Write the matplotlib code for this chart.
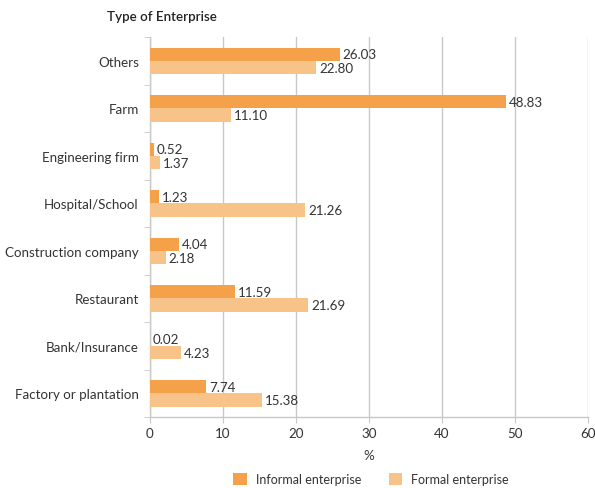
import matplotlib
matplotlib.use("Agg")
import matplotlib.pyplot as plt
import numpy as np

categories = ["Others", "Farm", "Engineering firm", "Hospital/School",
              "Construction company", "Restaurant", "Bank/Insurance",
              "Factory or plantation"]
informal = [26.03, 48.83, 0.52, 1.23, 4.04, 11.59, 0.02, 7.74]
formal = [22.80, 11.10, 1.37, 21.26, 2.18, 21.69, 4.23, 15.38]
xticks = [0, 10, 20, 30, 40, 50, 60]

plt.rcParams['font.family'] = ['Lato', 'DejaVu Sans']

c_inf = "#F4A14A"
c_for = "#F8C389"
txt = "#333333"
grid = "#C8C8C8"
fs = 9.6

fig = plt.figure(figsize=(5.95, 4.89), dpi=100)
ax = fig.add_axes([0.252, 0.145, 0.736, 0.777])

y = np.arange(len(categories))
h = 0.28
b1 = ax.barh(y - h/2, informal, height=h, color=c_inf, label="Informal enterprise", zorder=3)
b2 = ax.barh(y + h/2, formal, height=h, color=c_for, label="Formal enterprise", zorder=3)

for rect, v in zip(b1, informal):
    ax.text(v + 0.4, rect.get_y() + rect.get_height()/2, f"{v:.2f}",
            va="center", ha="left", fontsize=fs, color=txt, zorder=4)
for rect, v in zip(b2, formal):
    ax.text(v + 0.4, rect.get_y() + rect.get_height()/2, f"{v:.2f}",
            va="center", ha="left", fontsize=fs, color=txt, zorder=4)

ax.set_ylim(len(categories) - 0.5, -0.5)
ax.set_xlim(0, 60)
ax.set_xticks(xticks)
ax.set_xticklabels([str(t) for t in xticks], fontsize=fs, color=txt)
ax.set_yticks(y)
ax.set_yticklabels(categories, fontsize=fs, color=txt)
ax.set_yticks(np.arange(-0.5, len(categories) + 0.5, 1), minor=True)
ax.tick_params(axis='y', which='major', length=0, pad=8)
ax.tick_params(axis='y', which='minor', length=4, color=grid, direction='out')
ax.tick_params(axis='x', length=4, color=grid, pad=3)

ax.grid(axis='x', color=grid, linewidth=1, zorder=0)
for s in ['top', 'right']:
    ax.spines[s].set_visible(False)
for s in ['left', 'bottom']:
    ax.spines[s].set_color(grid)
    ax.spines[s].set_linewidth(1)

ax.set_xlabel("%", fontsize=fs, color=txt, labelpad=7)
fig.text(107/595, 1 - 17/489, "Type of Enterprise", fontsize=9.6, color="#222222",
         ha="left", va="center", fontweight="semibold")

fig.legend(handles=[b1, b2], loc="center", bbox_to_anchor=(371/595, 1 - 480/489),
           ncol=2, frameon=False, fontsize=9, handlelength=1.1, handleheight=1.2,
           columnspacing=2.2, handletextpad=0.7, labelcolor=txt)

fig.savefig("out.png", dpi=100)
